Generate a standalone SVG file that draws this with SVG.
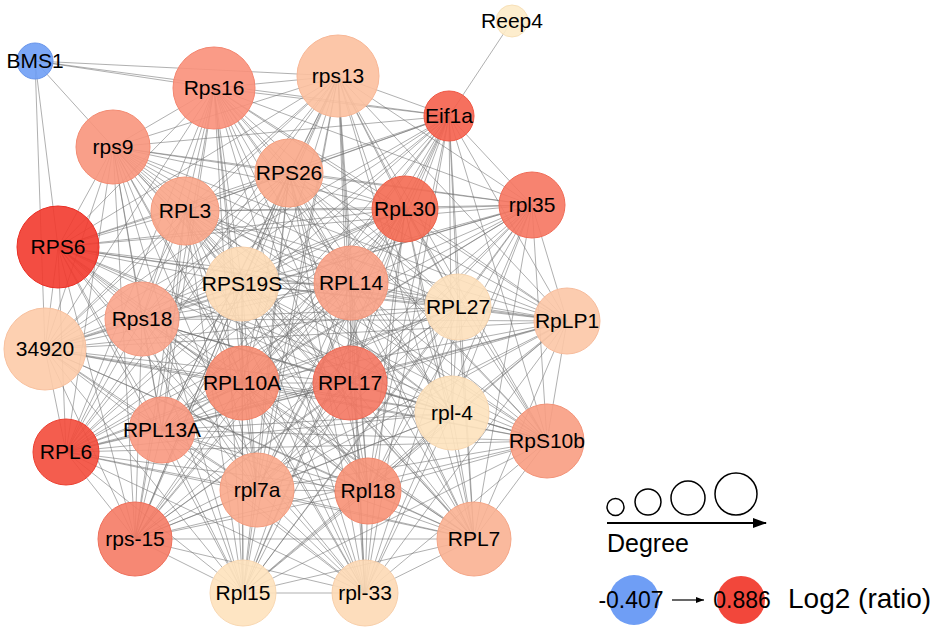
<svg xmlns="http://www.w3.org/2000/svg" width="935" height="632" viewBox="0 0 935 632">
<defs>
<style>
.e{fill:none;stroke:#707070;stroke-width:1;stroke-opacity:0.55}
.n circle{stroke-width:1;fill-opacity:0.9}
.n text,.t{font-family:"Liberation Sans",Arial,sans-serif;font-size:21px;fill:#000;text-anchor:middle}
.lg{fill:none;stroke:#000;stroke-width:1.5}
</style>
<marker id="ah" viewBox="0 0 14 10" refX="13" refY="5" markerWidth="14" markerHeight="10" markerUnits="userSpaceOnUse" orient="auto"><path d="M0 0L14 5L0 10z" fill="#000"/></marker>
<marker id="ah2" viewBox="0 0 8 6" refX="8" refY="3" markerWidth="8" markerHeight="6" markerUnits="userSpaceOnUse" orient="auto"><path d="M0 0L8 3L0 6z" fill="#000"/></marker>
</defs>
<rect width="935" height="632" fill="#fff"/>
<g id="edges">
<path class="e" d="M35 61L338 76M35 61L214 88M35 61L449 116M35 61L113 147M35 61L58 247M35 61L45 349M512 21L449 116"/>
<path class="e" d="M214 88L338 76M214 88L449 116M214 88L113 147M214 88L289 173M214 88L185 211M214 88L405 209M214 88L532 205M214 88L58 247M214 88L242 284M214 88L351 283M214 88L458 307M214 88L567 321M214 88L142 319M214 88L45 349M214 88L242 383M214 88L350 383M214 88L452 413M214 88L547 441M214 88L162 430M214 88L66 452M214 88L257 490M214 88L368 491M214 88L474 539M214 88L135 539M214 88L243 593M214 88L365 593"/>
<path class="e" d="M338 76L449 116M338 76L113 147M338 76L289 173M338 76L185 211M338 76L405 209M338 76L532 205M338 76L58 247M338 76L242 284M338 76L351 283M338 76L458 307M338 76L567 321M338 76L142 319M338 76L45 349M338 76L242 383M338 76L350 383M338 76L452 413M338 76L547 441M338 76L162 430M338 76L66 452M338 76L257 490M338 76L368 491M338 76L474 539M338 76L135 539M338 76L243 593M338 76L365 593"/>
<path class="e" d="M449 116L113 147M449 116L289 173M449 116L185 211M449 116L405 209M449 116L532 205M449 116L58 247M449 116L242 284M449 116L351 283M449 116L458 307M449 116L567 321M449 116L142 319M449 116L45 349M449 116L242 383M449 116L350 383M449 116L452 413M449 116L547 441M449 116L162 430M449 116L66 452M449 116L257 490M449 116L368 491M449 116L474 539M449 116L135 539M449 116L243 593M449 116L365 593"/>
<path class="e" d="M113 147L289 173M113 147L185 211M113 147L405 209M113 147L532 205M113 147L58 247M113 147L242 284M113 147L351 283M113 147L458 307M113 147L567 321M113 147L142 319M113 147L45 349M113 147L242 383M113 147L350 383M113 147L452 413M113 147L547 441M113 147L162 430M113 147L66 452M113 147L257 490M113 147L368 491M113 147L474 539M113 147L135 539M113 147L243 593M113 147L365 593"/>
<path class="e" d="M289 173L185 211M289 173L405 209M289 173L532 205M289 173L58 247M289 173L242 284M289 173L351 283M289 173L458 307M289 173L567 321M289 173L142 319M289 173L45 349M289 173L242 383M289 173L350 383M289 173L452 413M289 173L547 441M289 173L162 430M289 173L66 452M289 173L257 490M289 173L368 491M289 173L474 539M289 173L135 539M289 173L243 593M289 173L365 593"/>
<path class="e" d="M185 211L405 209M185 211L532 205M185 211L58 247M185 211L242 284M185 211L351 283M185 211L458 307M185 211L567 321M185 211L142 319M185 211L45 349M185 211L242 383M185 211L350 383M185 211L452 413M185 211L547 441M185 211L162 430M185 211L66 452M185 211L257 490M185 211L368 491M185 211L474 539M185 211L135 539M185 211L243 593M185 211L365 593"/>
<path class="e" d="M405 209L532 205M405 209L58 247M405 209L242 284M405 209L351 283M405 209L458 307M405 209L567 321M405 209L142 319M405 209L45 349M405 209L242 383M405 209L350 383M405 209L452 413M405 209L547 441M405 209L162 430M405 209L66 452M405 209L257 490M405 209L368 491M405 209L474 539M405 209L135 539M405 209L243 593M405 209L365 593"/>
<path class="e" d="M532 205L58 247M532 205L242 284M532 205L351 283M532 205L458 307M532 205L567 321M532 205L142 319M532 205L45 349M532 205L242 383M532 205L350 383M532 205L452 413M532 205L547 441M532 205L162 430M532 205L66 452M532 205L257 490M532 205L368 491M532 205L474 539M532 205L135 539M532 205L243 593M532 205L365 593"/>
<path class="e" d="M58 247L242 284M58 247L351 283M58 247L458 307M58 247L567 321M58 247L142 319M58 247L45 349M58 247L242 383M58 247L350 383M58 247L452 413M58 247L547 441M58 247L162 430M58 247L66 452M58 247L257 490M58 247L368 491M58 247L474 539M58 247L135 539M58 247L243 593M58 247L365 593"/>
<path class="e" d="M242 284L351 283M242 284L458 307M242 284L567 321M242 284L142 319M242 284L45 349M242 284L242 383M242 284L350 383M242 284L452 413M242 284L547 441M242 284L162 430M242 284L66 452M242 284L257 490M242 284L368 491M242 284L474 539M242 284L135 539M242 284L243 593M242 284L365 593"/>
<path class="e" d="M351 283L458 307M351 283L567 321M351 283L142 319M351 283L45 349M351 283L242 383M351 283L350 383M351 283L452 413M351 283L547 441M351 283L162 430M351 283L66 452M351 283L257 490M351 283L368 491M351 283L474 539M351 283L135 539M351 283L243 593M351 283L365 593"/>
<path class="e" d="M458 307L567 321M458 307L142 319M458 307L45 349M458 307L242 383M458 307L350 383M458 307L452 413M458 307L547 441M458 307L162 430M458 307L66 452M458 307L257 490M458 307L368 491M458 307L474 539M458 307L135 539M458 307L243 593M458 307L365 593"/>
<path class="e" d="M567 321L142 319M567 321L45 349M567 321L242 383M567 321L350 383M567 321L452 413M567 321L547 441M567 321L162 430M567 321L66 452M567 321L257 490M567 321L368 491M567 321L474 539M567 321L135 539M567 321L243 593M567 321L365 593"/>
<path class="e" d="M142 319L45 349M142 319L242 383M142 319L350 383M142 319L452 413M142 319L547 441M142 319L162 430M142 319L66 452M142 319L257 490M142 319L368 491M142 319L474 539M142 319L135 539M142 319L243 593M142 319L365 593"/>
<path class="e" d="M45 349L242 383M45 349L350 383M45 349L452 413M45 349L547 441M45 349L162 430M45 349L66 452M45 349L257 490M45 349L368 491M45 349L474 539M45 349L135 539M45 349L243 593M45 349L365 593"/>
<path class="e" d="M242 383L350 383M242 383L452 413M242 383L547 441M242 383L162 430M242 383L66 452M242 383L257 490M242 383L368 491M242 383L474 539M242 383L135 539M242 383L243 593M242 383L365 593"/>
<path class="e" d="M350 383L452 413M350 383L547 441M350 383L162 430M350 383L66 452M350 383L257 490M350 383L368 491M350 383L474 539M350 383L135 539M350 383L243 593M350 383L365 593"/>
<path class="e" d="M452 413L547 441M452 413L162 430M452 413L66 452M452 413L257 490M452 413L368 491M452 413L474 539M452 413L135 539M452 413L243 593M452 413L365 593"/>
<path class="e" d="M547 441L162 430M547 441L66 452M547 441L257 490M547 441L368 491M547 441L474 539M547 441L135 539M547 441L243 593M547 441L365 593"/>
<path class="e" d="M162 430L66 452M162 430L257 490M162 430L368 491M162 430L474 539M162 430L135 539M162 430L243 593M162 430L365 593"/>
<path class="e" d="M66 452L257 490M66 452L368 491M66 452L474 539M66 452L135 539M66 452L243 593M66 452L365 593"/>
<path class="e" d="M257 490L368 491M257 490L474 539M257 490L135 539M257 490L243 593M257 490L365 593M368 491L474 539M368 491L135 539M368 491L243 593M368 491L365 593M474 539L135 539M474 539L243 593M474 539L365 593M135 539L243 593M135 539L365 593M243 593L365 593"/>
</g>
<g id="BMS1" class="n"><circle cx="35" cy="61" r="18" fill="#6f9ef5" stroke="#6a96ea"/><text x="35" y="68">BMS1</text></g>
<g id="Reep4" class="n"><circle cx="512" cy="21" r="16" fill="#fdebc8" stroke="#f7e0b8"/><text x="512" y="28">Reep4</text></g>
<g id="Rps16" class="n"><circle cx="214" cy="88" r="41" fill="#f9907a" stroke="#f48670"/><text x="214" y="95">Rps16</text></g>
<g id="rps13" class="n"><circle cx="338" cy="76" r="41" fill="#fcc09f" stroke="#f8b796"/><text x="338" y="83">rps13</text></g>
<g id="Eif1a" class="n"><circle cx="449" cy="116" r="25" fill="#f5604c" stroke="#ef5542"/><text x="449" y="123">Eif1a</text></g>
<g id="rps9" class="n"><circle cx="113" cy="147" r="37" fill="#f8957c" stroke="#f38b72"/><text x="113" y="154">rps9</text></g>
<g id="RPS26" class="n"><circle cx="289" cy="173" r="34" fill="#f9a98a" stroke="#f49f80"/><text x="289" y="180">RPS26</text></g>
<g id="RPL3" class="n"><circle cx="185" cy="211" r="34" fill="#f9a588" stroke="#f49b7e"/><text x="185" y="218">RPL3</text></g>
<g id="RpL30" class="n"><circle cx="405" cy="209" r="33" fill="#f46a52" stroke="#ee6049"/><text x="405" y="216">RpL30</text></g>
<g id="rpl35" class="n"><circle cx="532" cy="205" r="33" fill="#f67660" stroke="#f06b56"/><text x="532" y="212">rpl35</text></g>
<g id="RPS6" class="n"><circle cx="58" cy="247" r="41" fill="#f23a2e" stroke="#ea2f25"/><text x="58" y="254">RPS6</text></g>
<g id="RPS19S" class="n"><circle cx="242" cy="284" r="37" fill="#fddab5" stroke="#f8d0aa"/><text x="242" y="291">RPS19S</text></g>
<g id="RPL14" class="n"><circle cx="351" cy="283" r="37" fill="#f8a186" stroke="#f3977c"/><text x="351" y="290">RPL14</text></g>
<g id="RPL27" class="n"><circle cx="458" cy="307" r="33" fill="#fde0bb" stroke="#f8d6b0"/><text x="458" y="314">RPL27</text></g>
<g id="RpLP1" class="n"><circle cx="567" cy="321" r="33" fill="#fcc6a6" stroke="#f7bc9c"/><text x="567" y="328">RpLP1</text></g>
<g id="Rps18" class="n"><circle cx="142" cy="319" r="37" fill="#f9a48b" stroke="#f49a81"/><text x="142" y="326">Rps18</text></g>
<g id="n34920" class="n"><circle cx="45" cy="349" r="41" fill="#fdcba9" stroke="#f8c19f"/><text x="45" y="356">34920</text></g>
<g id="RPL10A" class="n"><circle cx="242" cy="383" r="37" fill="#f68c71" stroke="#f18267"/><text x="242" y="390">RPL10A</text></g>
<g id="RPL17" class="n"><circle cx="350" cy="383" r="37" fill="#f47762" stroke="#ee6c58"/><text x="350" y="390">RPL17</text></g>
<g id="rpl-4" class="n"><circle cx="452" cy="413" r="37" fill="#fde2bd" stroke="#f8d8b2"/><text x="452" y="420">rpl-4</text></g>
<g id="RpS10b" class="n"><circle cx="547" cy="441" r="37" fill="#f89d82" stroke="#f39378"/><text x="547" y="448">RpS10b</text></g>
<g id="RPL13A" class="n"><circle cx="162" cy="430" r="33" fill="#f8987f" stroke="#f38e75"/><text x="162" y="437">RPL13A</text></g>
<g id="RPL6" class="n"><circle cx="66" cy="452" r="33" fill="#f34b3b" stroke="#ec4031"/><text x="66" y="459">RPL6</text></g>
<g id="rpl7a" class="n"><circle cx="257" cy="490" r="37" fill="#f9a88b" stroke="#f49e81"/><text x="257" y="497">rpl7a</text></g>
<g id="Rpl18" class="n"><circle cx="368" cy="491" r="33" fill="#f79176" stroke="#f2876c"/><text x="368" y="498">Rpl18</text></g>
<g id="RPL7" class="n"><circle cx="474" cy="539" r="37" fill="#fab192" stroke="#f5a788"/><text x="474" y="546">RPL7</text></g>
<g id="rps-15" class="n"><circle cx="135" cy="539" r="37" fill="#f57b65" stroke="#ef705b"/><text x="135" y="546">rps-15</text></g>
<g id="Rpl15" class="n"><circle cx="243" cy="593" r="33" fill="#fee2bd" stroke="#f9d8b2"/><text x="243" y="600">Rpl15</text></g>
<g id="rpl-33" class="n"><circle cx="365" cy="593" r="33" fill="#fdd9b5" stroke="#f8cfaa"/><text x="365" y="600">rpl-33</text></g>
<g id="legend">
<circle class="lg" cx="615.5" cy="507" r="8.5"/>
<circle class="lg" cx="648" cy="502" r="13"/>
<circle class="lg" cx="688" cy="498" r="17"/>
<circle class="lg" cx="736" cy="494" r="21"/>
<line x1="607" y1="523" x2="766" y2="523" stroke="#000" stroke-width="2" marker-end="url(#ah)"/>
<text class="t" x="607" y="552" style="text-anchor:start;font-size:25px">Degree</text>
<circle cx="634" cy="600" r="25" fill="#6f9ef5"/>
<circle cx="741" cy="600" r="24" fill="#f2473b"/>
<text class="t" x="631" y="608" style="font-size:23px">-0.407</text>
<line x1="672" y1="600" x2="704" y2="600" stroke="#000" stroke-width="1.2" marker-end="url(#ah2)"/>
<text class="t" x="742" y="608" style="font-size:23px">0.886</text>
<text class="t" x="788" y="608" style="text-anchor:start;font-size:28px">Log2 (ratio)</text>
</g>
</svg>
